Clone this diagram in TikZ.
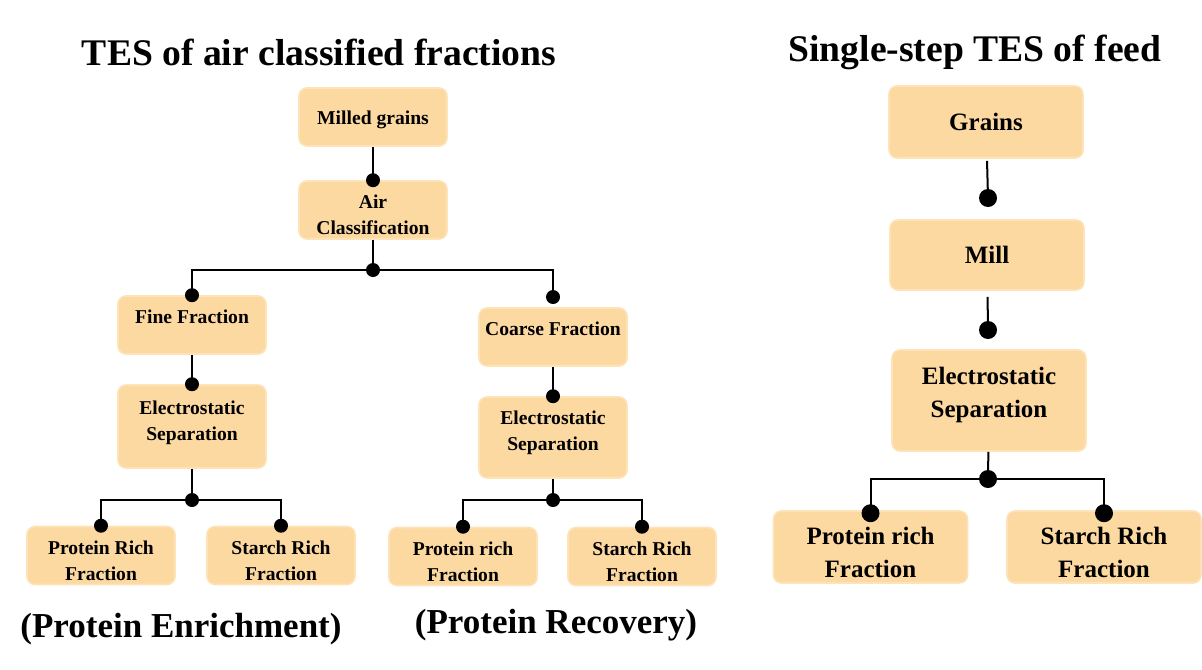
\documentclass[tikz,border=0pt]{standalone}
\usepackage{fontspec}
\setmainfont{Liberation Serif}
\definecolor{boxfill}{HTML}{FDD9A2}
\definecolor{boxline}{HTML}{FEE2B8}
\begin{document}
\begin{tikzpicture}[x=0.5pt,y=-0.5pt,
  smallbox/.style={draw=boxline,line width=0.8pt,fill=boxfill,rounded corners=4pt,align=center,
    minimum width=74pt,minimum height=29pt,inner sep=1pt,font=\fontsize{9.8}{13}\selectfont\bfseries},
  bigbox/.style={draw=boxline,line width=0.8pt,fill=boxfill,rounded corners=4pt,align=center,
    minimum width=97pt,minimum height=36pt,inner sep=1pt,font=\fontsize{12.5}{16.5}\selectfont\bfseries},
  highbox/.style={text depth=8.5pt},
  lowbox/.style={text height=#1},
  link/.style={line width=1pt,black},
  title/.style={font=\fontsize{18.8}{20}\selectfont\bfseries},
  caption/.style={font=\fontsize{17.5}{19}\selectfont\bfseries}]
\useasboundingbox (0,0) rectangle (1202,669);
% left tree: air classified fractions
\node[title] (lefttitle) at (319,52) {TES of air classified fractions};
\node[smallbox,lowbox=10pt] (milled) at (373,117) {Milled grains};
\node[smallbox,lowbox=25pt] (aircls) at (373,210) {Air\\Classification};
\coordinate (split) at (373,270);
\node[smallbox,highbox] (fine) at (192,325) {Fine Fraction};
\node[smallbox,highbox] (coarse) at (553,337) {Coarse Fraction};
\coordinate (coarsein) at (553,297);
\node[smallbox,minimum height=41.5pt,text depth=6pt] (esleft) at (192,426.5) {Electrostatic\\Separation};
\node[smallbox,minimum height=40.5pt,text depth=7pt] (esmid) at (553,437.5) {Electrostatic\\Separation};
\coordinate (splitL) at (192,500);
\coordinate (splitM) at (553,500);
\node[smallbox,lowbox=25pt] (protL) at (101,555.5) {Protein Rich\\Fraction};
\node[smallbox,lowbox=25pt] (starchL) at (281,555.5) {Starch Rich\\Fraction};
\node[smallbox,lowbox=25pt] (protM) at (463,556.5) {Protein rich\\Fraction};
\node[smallbox,lowbox=25pt] (starchM) at (642,556.5) {Starch Rich\\Fraction};
\node[caption] (enrich) at (181,629) {(Protein Enrichment)};
\node[caption] (recov) at (556,625) {(Protein Recovery)};
\draw[link] (milled) -- (aircls);
\draw[link] (aircls) -- (split);
\draw[link] (split) -| (fine.north);
\draw[link] (split) -| (coarsein);
\draw[link] (fine) -- (esleft);
\draw[link] (coarse) -- (esmid);
\draw[link] (esleft) -- (splitL);
\draw[link] (splitL) -| (protL.north);
\draw[link] (splitL) -| (starchL.north);
\draw[link] (esmid) -- (splitM);
\draw[link] (splitM) -| (protM.north);
\draw[link] (splitM) -| (starchM.north);
\foreach \p in {aircls.north,split,fine.north,coarsein,esleft.north,esmid.north,
    splitL,splitM,protL.north,starchL.north,protM.north,starchM.north}
  \fill (\p) circle (3.5pt);
% right tree: single-step
\node[title] (righttitle) at (975,52) {Single-step TES of feed};
\node[bigbox] (grains) at (986,122) {Grains};
\coordinate (millin) at (988,198);
\node[bigbox,minimum height=35pt] (mill) at (987,255) {Mill};
\coordinate (esin) at (988,330);
\node[bigbox,minimum height=50.5pt,highbox] (esright) at (989,400.5) {Electrostatic\\Separation};
\coordinate (splitR) at (988,479);
\node[bigbox,lowbox=31pt] (protR) at (870.5,547) {Protein rich\\Fraction};
\node[bigbox,lowbox=31pt] (starchR) at (1104,547) {Starch Rich\\Fraction};
\draw[link,shorten <=1pt] (grains) -- (millin);
\draw[link,shorten <=3pt] (mill) -- (esin);
\draw[link] (esright) -- (splitR);
\draw[link] (splitR) -| (protR.north);
\draw[link] (splitR) -| (starchR.north);
\foreach \p in {millin,esin,splitR}
  \fill (\p) circle (4.5pt);
\foreach \p in {protR.north,starchR.north}
  \fill ([yshift=-1.5pt]\p) circle (4.5pt);
\end{tikzpicture}
\end{document}
